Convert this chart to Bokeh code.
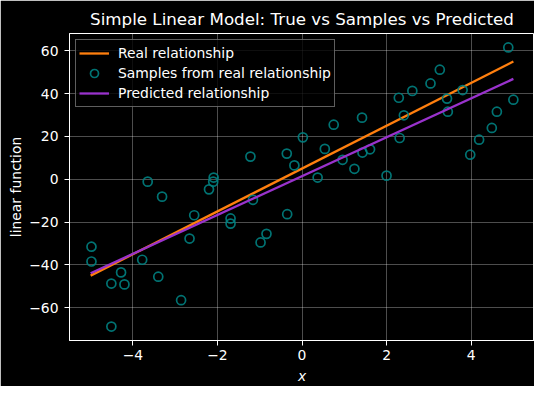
from bokeh.plotting import figure
from bokeh.models import (Range1d, SingleIntervalTicker, CustomJSTickFormatter, Legend, LegendItem, ColumnDataSource)
from bokeh.embed import file_html
from bokeh.resources import INLINE

# ---- data ----
sample_x = [-4.98, -4.98, -4.51, -4.51, -4.28, -4.20, -3.78, -3.65, -3.40, -3.31,
            -2.86, -2.66, -2.55, -2.20, -2.10, -2.09, -1.69, -1.69, -1.22, -1.16,
            -0.98, -0.84, -0.36, -0.35, -0.18, 0.02, 0.37, 0.54, 0.75, 0.96,
            1.42, 1.24, 1.43, 1.61, 2.00, 2.29, 2.31, 2.41, 2.61, 3.04,
            3.26, 3.43, 3.45, 3.80, 3.98, 4.19, 4.49, 4.61, 4.88, 5.00]
sample_y = [-31.5, -38.4, -48.7, -68.8, -43.5, -49.1, -37.6, -1.1, -45.5, -8.1,
            -56.5, -27.7, -16.8, -4.7, -1.1, 0.8, -18.3, -20.7, 10.6, -9.6,
            -29.5, -25.5, 12.0, -16.3, 6.5, 19.6, 0.8, 14.2, 25.5, 9.1,
            28.8, 4.9, 12.5, 14.0, 1.7, 38.1, 19.3, 29.9, 41.3, 44.8,
            51.2, 37.7, 31.6, 41.7, 11.5, 18.5, 24.0, 31.6, 61.6, 37.2]
line_x = [-5.0, 5.0]
real_y = [-45.0, 55.0]
pred_y = [-43.9, 46.9]

FONT = "DejaVu Sans"

def pad_range(vals):
    lo, hi = min(vals), max(vals)
    s = hi - lo
    return Range1d(lo - 0.05 * s, hi + 0.05 * s)

all_x = sample_x + line_x
all_y = sample_y + real_y + pred_y

p = figure(width=535, height=385, output_backend="svg", toolbar_location=None,
           x_range=pad_range(all_x), y_range=pad_range(all_y),
           frame_width=465, frame_height=307,
           min_border_left=69, min_border_right=0, min_border_top=33, min_border_bottom=45)

p.background_fill_color = "black"
p.border_fill_color = "black"
p.outline_line_color = "white"
p.outline_line_width = 1

p.title.text = "Simple Linear Model: True vs Samples vs Predicted"
p.title.text_color = "white"
p.title.text_font = FONT
p.title.text_font_size = "16.7px"
p.title.text_font_style = "normal"
p.title.align = "center"
p.title.standoff = 9
p.title.offset = 0

minus_fmt = "return tick.toString().replace('-', '\u2212');"

for ax in (p.xaxis[0], p.yaxis[0]):
    ax.axis_line_color = "white"
    ax.major_tick_line_color = "white"
    ax.minor_tick_line_color = None
    ax.major_tick_out = 5
    ax.major_tick_in = 0
    ax.major_label_text_color = "white"
    ax.major_label_text_font = FONT
    ax.major_label_text_font_size = "13.9px"
    ax.axis_label_text_color = "white"
    ax.axis_label_text_font = FONT
    ax.axis_label_text_font_size = "13.9px"
    ax.formatter = CustomJSTickFormatter(code=minus_fmt)

p.xaxis[0].ticker = SingleIntervalTicker(interval=2)
p.yaxis[0].ticker = SingleIntervalTicker(interval=20)
p.xaxis[0].axis_label = "x"
p.xaxis[0].axis_label_text_font_style = "italic"
p.yaxis[0].axis_label = "linear function"
p.yaxis[0].axis_label_text_font_style = "normal"
p.xaxis[0].major_label_standoff = 4
p.yaxis[0].major_label_standoff = 6
p.xaxis[0].axis_label_standoff = 5
p.yaxis[0].axis_label_standoff = 2

p.grid.grid_line_color = "white"
p.grid.grid_line_alpha = 0.3
p.grid.grid_line_width = 1

r_real = p.line(line_x, real_y, line_color="#ff7f0e", line_width=2.3)
src = ColumnDataSource(dict(x=sample_x, y=sample_y))
r_samp = p.scatter("x", "y", source=src, size=9, fill_color=None,
                   line_color="teal", line_width=1.7, line_alpha=0.9)
r_pred = p.line(line_x, pred_y, line_color="#9932cc", line_width=2.3)

legend = Legend(items=[
    LegendItem(label="Real relationship", renderers=[r_real]),
    LegendItem(label="Samples from real relationship", renderers=[r_samp]),
    LegendItem(label="Predicted relationship", renderers=[r_pred]),
], location="top_left")
legend.margin = 6
legend.padding = 3
legend.spacing = 0
legend.glyph_width = 30
legend.glyph_height = 20
legend.label_height = 20
legend.label_standoff = 9
legend.label_text_color = "white"
legend.label_text_font = FONT
legend.label_text_font_size = "13.9px"
legend.background_fill_color = "black"
legend.background_fill_alpha = 0.8
legend.border_line_color = "#bbbbbb"
legend.border_line_width = 1
p.add_layout(legend)

open("out.html", "w").write(file_html(p, INLINE))
